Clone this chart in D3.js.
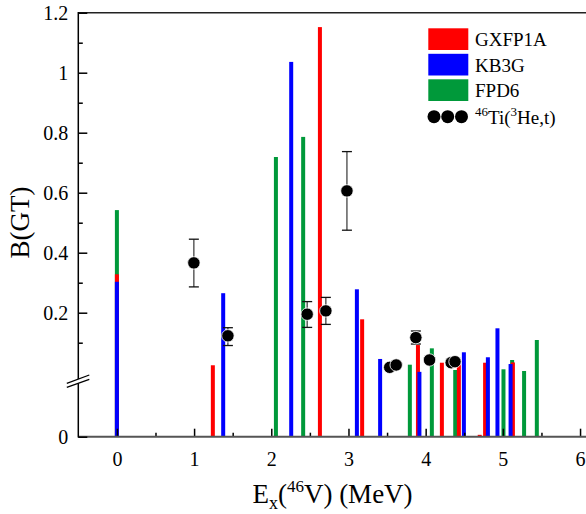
<!DOCTYPE html>
<html>
<head>
<meta charset="utf-8">
<script src="https://cdn.jsdelivr.net/npm/d3@7"></script>
<style>
  html, body { margin: 0; padding: 0; background: #fff; }
  svg { display: block; }
  svg text { font-family: "Liberation Serif", "Times New Roman", serif !important; }
</style>
</head>
<body>
<svg id="chart" width="586" height="514"></svg>
<script>
// ---- data ----
const gxfp1aE = [0, 1.243, 2.63, 3.177, 3.90, 4.21, 4.43, 4.70, 4.77, 5.13];
const gxfp1aB = [0.328, 0.076, 1.152, 0.178, 0.0975, 0.0787, 0.0827, 0.002, 0.0787, 0.079];

const kb3gE = [0, 1.377, 2.258, 3.109, 3.41, 3.919, 4.495, 4.806, 4.93, 5.10];
const kb3gB = [0.303, 0.265, 1.036, 0.278, 0.0827, 0.069, 0.0898, 0.0845, 0.148, 0.0773];

const fpd6E = [0, 2.06, 2.413, 3.795, 4.08, 4.383, 5.008, 5.12, 5.275, 5.44];
const fpd6B = [0.542, 0.719, 0.786, 0.0766, 0.094, 0.071, 0.0717, 0.0816, 0.0699, 0.109];

const expE  = [0.997, 1.438, 2.465, 2.707, 2.98, 3.534, 3.618, 3.873, 4.05, 4.33, 4.38];
const expB  = [0.366, 0.123, 0.195, 0.206, 0.606, 0.0738, 0.0763, 0.117, 0.0816, 0.0787, 0.0798];
const expLo = [0.286, 0.097, 0.151, 0.161, 0.475, null, null, 0.0986, null, null, null];
const expHi = [0.445, 0.150, 0.237, 0.251, 0.737, null, null, 0.139, null, null, null];

const xTicks = [0, 1, 2, 3, 4, 5, 6];
const xMinor = [0.5, 1.5, 2.5, 3.5, 4.5, 5.5];
const yTicks = [0, 0.2, 0.4, 0.6, 0.8, 1, 1.2];
const yTickLabels = ["0", "0.2", "0.4", "0.6", "0.8", "1", "1.2"];
const yMinor = [0.1, 0.3, 0.5, 0.7, 0.9, 1.1];

const seriesNames = ["GXFP1A", "KB3G", "FPD6"];
const seriesColors = ["#ff0000", "#0000ff", "#00993a"];

const FONT = "'Liberation Serif', 'Times New Roman', serif";

// ---- scales ----
const svg = d3.select("#chart");
const x = d3.scaleLinear().domain([-0.5, 6.09]).range([78.3, 587]);
// broken axis: the lower segment (0 - 0.1) is expanded
const y = d3.scaleLinear().domain([0, 0.1, 1.2]).range([436.7, 342.7, 12.7]);

// ---- frame ----
svg.append("line").attr("x1", 78.3).attr("x2", 586).attr("y1", 12.7).attr("y2", 12.7)
  .attr("stroke", "#222").attr("stroke-width", 1.5);

// ---- bars (green, red, blue order) ----
const barW = 4;
function bars(E, B, color) {
  const data = E.map((e, i) => ({e, b: B[i]}));
  svg.append("g").selectAll("rect").data(data).join("rect")
    .attr("x", d => x(d.e) - barW / 2)
    .attr("y", d => y(d.b))
    .attr("width", barW)
    .attr("height", d => y(0) - y(d.b))
    .attr("fill", color);
}
bars(fpd6E, fpd6B, seriesColors[2]);
bars(gxfp1aE, gxfp1aB, seriesColors[0]);
bars(kb3gE, kb3gB, seriesColors[1]);

// ---- axes ----
const xAxis = d3.axisBottom(x).tickValues(xTicks).tickSize(-8).tickPadding(15).tickFormat(d => String(d));
const gx = svg.append("g").attr("transform", `translate(0,${y(0)})`).call(xAxis).attr("font-family", null);
gx.select(".domain").remove();
gx.selectAll(".tick line").attr("stroke", "#000").attr("stroke-width", 1.5);
gx.selectAll(".tick text").attr("font-size", 20).style("font-family", FONT).attr("fill", "#000");
const xAxisMinor = d3.axisBottom(x).tickValues(xMinor).tickSize(-4).tickFormat("");
const gxm = svg.append("g").attr("transform", `translate(0,${y(0)})`).call(xAxisMinor);
gxm.select(".domain").remove();
gxm.selectAll(".tick line").attr("stroke", "#000").attr("stroke-width", 1.5);

svg.append("line").attr("x1", 78.3).attr("x2", 586).attr("y1", y(0)).attr("y2", y(0))
  .attr("stroke", "#555").attr("stroke-width", 2);

const yAxis = d3.axisLeft(y).tickValues(yTicks).tickSize(-9).tickPadding(10)
  .tickFormat((d, i) => yTickLabels[i]);
const gy = svg.append("g").attr("transform", `translate(${x(-0.5)},0)`).call(yAxis).attr("font-family", null);
gy.select(".domain").remove();
gy.selectAll(".tick line").attr("stroke", "#000").attr("stroke-width", 1.5);
gy.selectAll(".tick text").attr("font-size", 20).style("font-family", FONT).attr("fill", "#000");
const yAxisMinor = d3.axisLeft(y).tickValues(yMinor).tickSize(-4.5).tickFormat("");
const gym = svg.append("g").attr("transform", `translate(${x(-0.5)},0)`).call(yAxisMinor);
gym.select(".domain").remove();
gym.selectAll(".tick line").attr("stroke", "#000").attr("stroke-width", 1.5);

svg.append("line").attr("x1", x(-0.5)).attr("x2", x(-0.5)).attr("y1", 12).attr("y2", y(0) + 0.75)
  .attr("stroke", "#000").attr("stroke-width", 1.5);

// axis break marks
const bx = x(-0.5);
svg.append("polygon")
  .attr("points", `${bx - 11},${383.3} ${bx + 11},${375} ${bx + 11},${379.3} ${bx - 11},${387.3}`)
  .attr("fill", "#fff");
[[383.3, 375], [387.3, 379.3]].forEach(([ya, yb]) => {
  svg.append("line").attr("x1", bx - 11.5).attr("y1", ya).attr("x2", bx + 11).attr("y2", yb)
    .attr("stroke", "#000").attr("stroke-width", 1.3);
});

// ---- experimental points ----
const expData = expE.map((e, i) => ({e, b: expB[i], lo: expLo[i], hi: expHi[i]}));
const eg = svg.append("g");
expData.filter(d => d.lo !== null).forEach(d => {
  eg.append("line").attr("x1", x(d.e)).attr("x2", x(d.e)).attr("y1", y(d.lo)).attr("y2", y(d.hi))
    .attr("stroke", "#444").attr("stroke-width", 1.3);
  [d.lo, d.hi].forEach(v => {
    eg.append("line").attr("x1", x(d.e) - 5).attr("x2", x(d.e) + 5).attr("y1", y(v)).attr("y2", y(v))
      .attr("stroke", "#111").attr("stroke-width", 1.3);
  });
});
eg.selectAll("circle").data(expData).join("circle")
  .attr("cx", d => x(d.e)).attr("cy", d => y(d.b)).attr("r", 6.2)
  .attr("fill", "#000").attr("stroke", "#fff").attr("stroke-width", 0.8);

// ---- legend ----
const lg = svg.append("g");
const legY = [28.3, 53.8, 79.3];
seriesNames.forEach((name, i) => {
  lg.append("rect").attr("x", 428.3).attr("y", legY[i]).attr("width", 40).attr("height", 21.7)
    .attr("fill", seriesColors[i]);
  lg.append("text").attr("x", 475).attr("y", legY[i] + 18).attr("font-size", 19)
    .style("font-family", FONT).attr("fill", "#000").text(name);
});
[434, 447.7, 461.5].forEach(cx => {
  lg.append("circle").attr("cx", cx).attr("cy", 116.7).attr("r", 6.5).attr("fill", "#000");
});
const lt = lg.append("text").attr("x", 475).attr("y", 123.5).attr("font-size", 19)
  .style("font-family", FONT).attr("fill", "#000");
lt.append("tspan").attr("font-size", 13).attr("dy", -8).text("46");
lt.append("tspan").attr("dy", 8).text("Ti(");
lt.append("tspan").attr("font-size", 13).attr("dy", -8).text("3");
lt.append("tspan").attr("dy", 8).text("He,t)");

// ---- axis titles ----
const xl = svg.append("text").attr("x", 332.5).attr("y", 503).attr("text-anchor", "middle")
  .attr("font-size", 27).style("font-family", FONT).attr("fill", "#000");
xl.append("tspan").text("E");
xl.append("tspan").attr("font-size", 18).attr("dy", 6).text("x");
xl.append("tspan").attr("dy", -6).text("(");
xl.append("tspan").attr("font-size", 17).attr("dy", -11).text("46");
xl.append("tspan").attr("dy", 11).text("V) (MeV)");

svg.append("text").attr("transform", "translate(28.5,222.5) rotate(-90)")
  .attr("text-anchor", "middle").attr("font-size", 27).style("font-family", FONT)
  .attr("fill", "#000").text("B(GT)");
</script>
</body>
</html>
